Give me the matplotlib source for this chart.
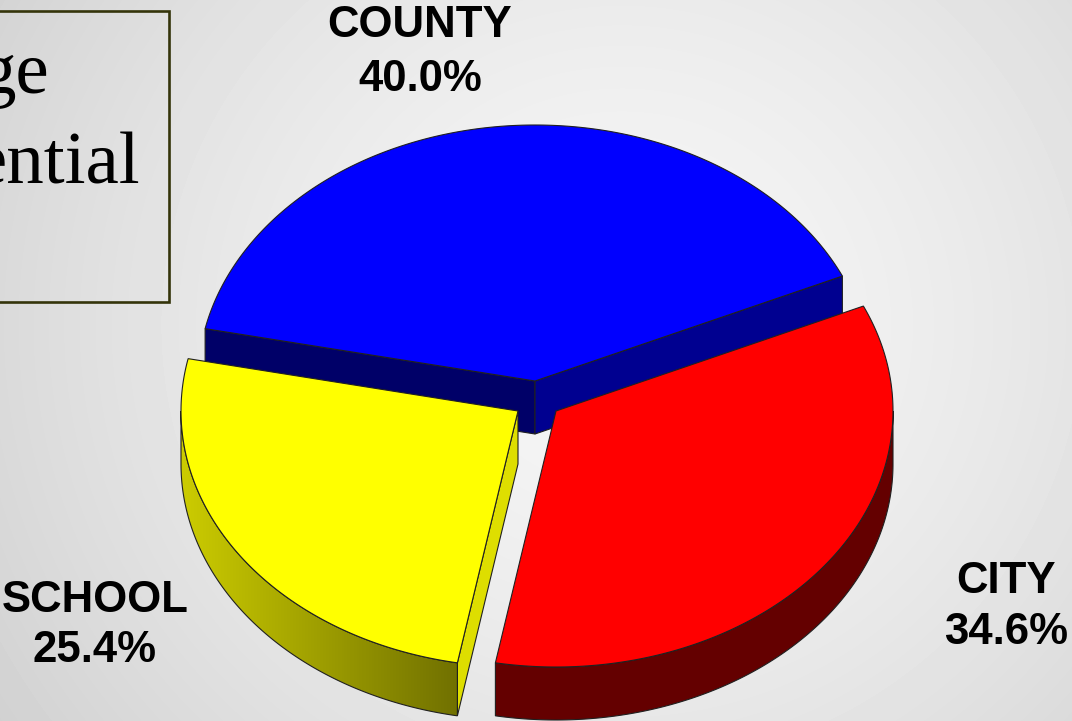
import numpy as np
import matplotlib
matplotlib.use("Agg")
import matplotlib.pyplot as plt
from matplotlib.patches import Polygon, Rectangle

# Data
labels = ["COUNTY", "CITY", "SCHOOL"]
shares = [40.0, 34.6, 25.4]
top_colors = ["#0000ff", "#ff0000", "#ffff00"]
wall_colors = ["#000090", "#640000", "#707000"]
cut_colors = ["#000068", "#640000", "#dede00"]
note_lines = ["ge", "ential"]

# Layout (pixels)
W, H = 1072, 721
RX, RY = 337, 256
DEPTH = 53
START = 24.2
CENTERS = [(535, 381), (556, 411), (518, 411)]
LABEL_POS = [(420, 52.5), (1006, 607), (95, 625.5)]
LABEL_SPACING = [1.43, 1.33, 1.28]
EDGE = "#202020"


def arc(center, a0, a1, n=200):
    t = np.radians(np.linspace(a0, a1, n))
    return np.column_stack([center[0] + RX * np.cos(t), center[1] - RY * np.sin(t)])


def shifted(pts):
    return pts + np.array([0, DEPTH])


def cut_wall(center, angle):
    p = arc(center, angle, angle, 1)
    c = np.array([center], dtype=float)
    return np.vstack([c, p, shifted(p), shifted(c)])


def outer_wall(center, a0, a1):
    pts = arc(center, a0, a1)
    return np.vstack([pts, shifted(pts)[::-1]])


# wedge angles from the shares, clockwise
spans = [s * 3.6 for s in shares]
county = (START, START + spans[0])
city = (START - spans[1], START)
school = (START + spans[0], START + spans[0] + spans[2])

fig = plt.figure(figsize=(W / 100, H / 100), dpi=100)
ax = fig.add_axes([0, 0, 1, 1])
ax.set_xlim(0, W)
ax.set_ylim(H, 0)
ax.axis("off")

# background
yy, xx = np.mgrid[0:H, 0:W]
dist = np.hypot((xx - W * 0.58) / W, 0.7 * (yy - H * 0.45) / H)
ax.imshow(0.965 - 0.25 * dist ** 1.5, cmap="gray", vmin=0, vmax=1,
          extent=[0, W, H, 0], aspect="auto", zorder=0)

# note box, the left part is cut off by the slide
ax.add_patch(Rectangle((-5, 11), 174, 291, fill=False, ec="#34340a", lw=1.9, zorder=1))
for line, base, right in zip(note_lines, [93, 183], [50, 140]):
    ax.text(right, base, line, family="Liberation Serif", fontsize=54, ha="right",
            va="baseline", color="black", zorder=2)

lw = 0.8

# county
c = CENTERS[0]
ax.add_patch(Polygon(cut_wall(c, county[1]), fc=cut_colors[0], ec=EDGE, lw=lw, zorder=3))
ax.add_patch(Polygon(cut_wall(c, county[0]), fc=wall_colors[0], ec=EDGE, lw=lw, zorder=3))
ax.add_patch(Polygon(np.vstack([[c], arc(c, *county)]), fc=top_colors[0], ec=EDGE, lw=lw, zorder=4))

# school
c = CENTERS[2]
ax.add_patch(Polygon(cut_wall(c, school[1]), fc=cut_colors[2], ec=EDGE, lw=lw, zorder=5))
ax.add_patch(Polygon(outer_wall(c, 180, school[1]), fc="none", ec=EDGE, lw=lw, zorder=6))
ramp = np.linspace(0, 1, 256).reshape(1, -1)
shade = np.zeros((1, 256, 3))
shade[..., 0] = shade[..., 1] = 0.80 - 0.36 * ramp
grad = ax.imshow(shade, extent=[c[0] - RX, 459, H, 0], aspect="auto", zorder=5.5)
grad.set_clip_path(Polygon(outer_wall(c, 180, school[1]), transform=ax.transData))
ax.add_patch(Polygon(np.vstack([[c], arc(c, *school)]), fc=top_colors[2], ec=EDGE, lw=lw, zorder=7))

# city
c = CENTERS[1]
ax.add_patch(Polygon(outer_wall(c, city[0], 0), fc=wall_colors[1], ec=EDGE, lw=lw, zorder=8))
ax.add_patch(Polygon(np.vstack([[c], arc(c, *city)]), fc=top_colors[1], ec=EDGE, lw=lw, zorder=9))

ax.set_xlim(0, W)
ax.set_ylim(H, 0)

for name, val, pos, sp in zip(labels, shares, LABEL_POS, LABEL_SPACING):
    ax.text(pos[0], pos[1], f"{name}\n{val:.1f}%", family="Liberation Sans", weight="bold",
            fontsize=31.5, ha="center", va="center", linespacing=sp, color="black", zorder=10)

fig.savefig("out.png", dpi=100)
